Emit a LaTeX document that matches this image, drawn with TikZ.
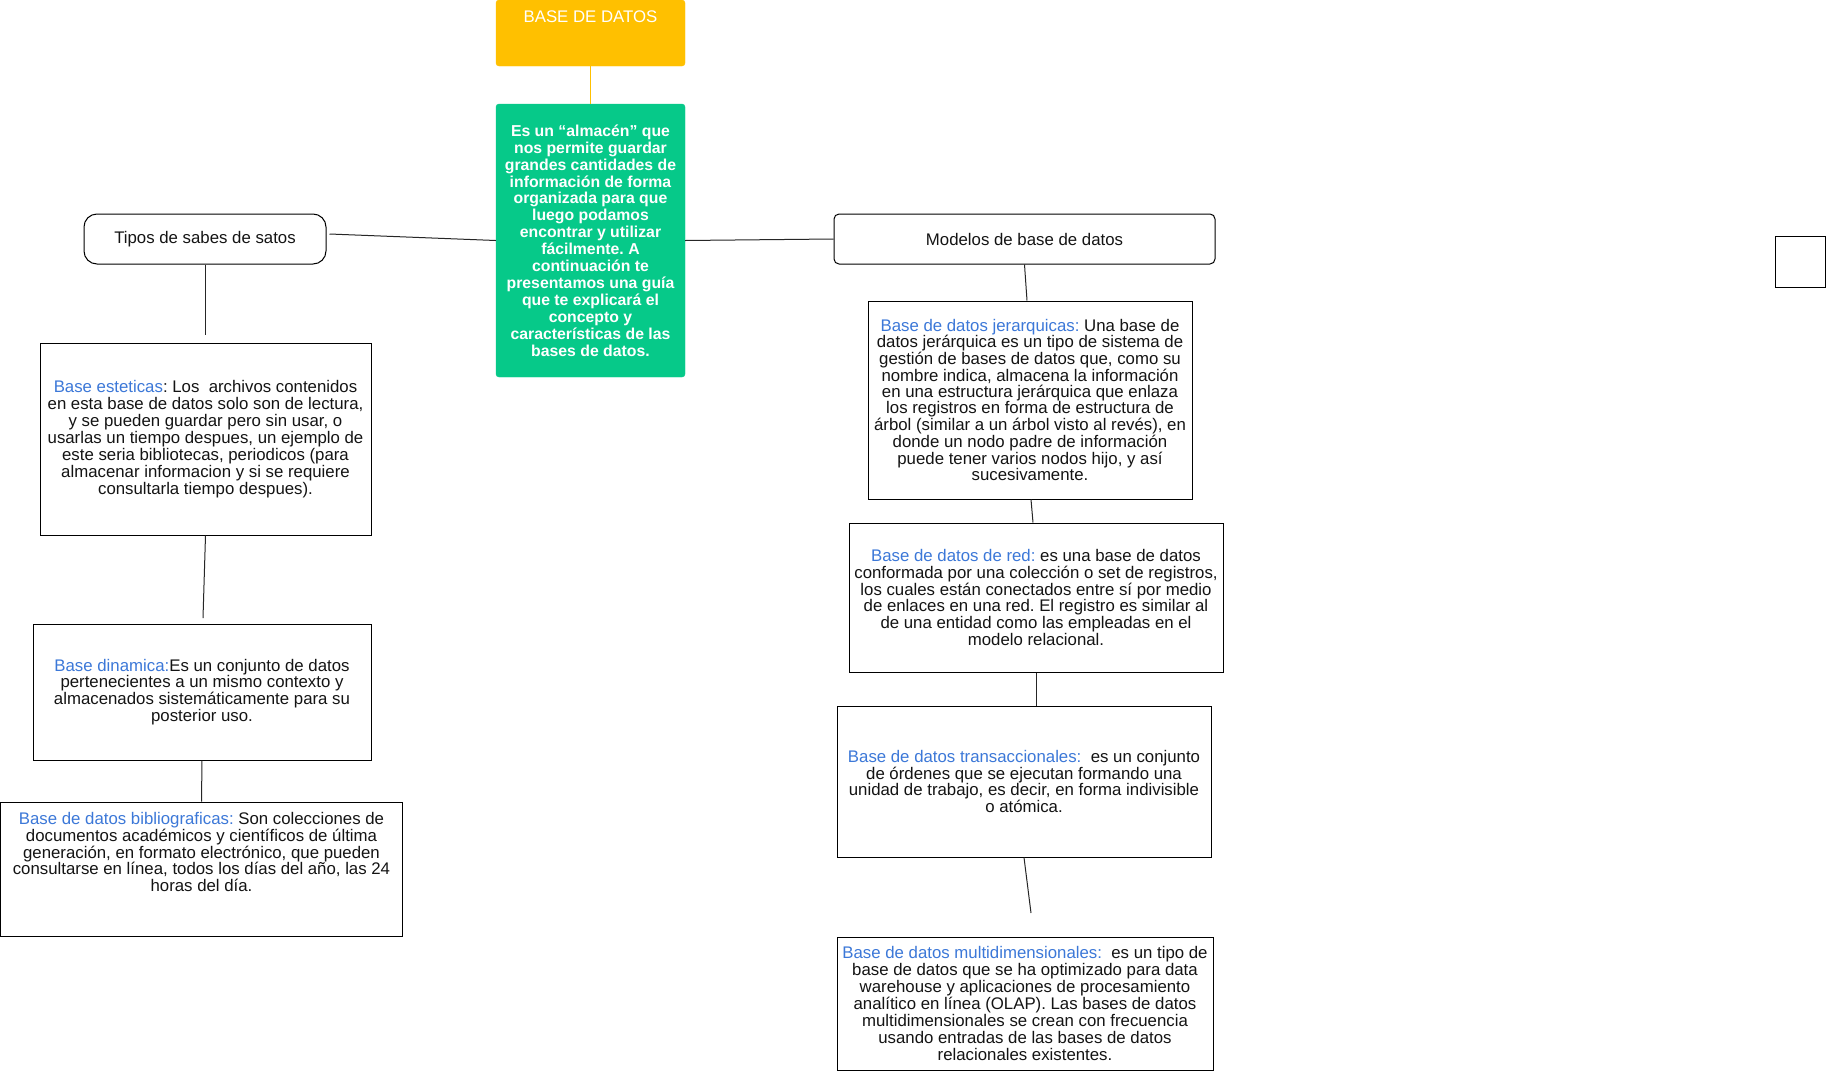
\documentclass[tikz,border=0pt]{standalone}
\usepackage{fontspec}
\setmainfont{Liberation Sans}
\frenchspacing
\definecolor{gold}{HTML}{FFC000}
\definecolor{mint}{RGB}{6,201,137}
\definecolor{azultxt}{HTML}{3C78D8}
\definecolor{ink}{HTML}{141414}
\newcommand{\azul}[1]{\textcolor{azultxt}{#1}}
\tikzset{
  plainbox/.style={draw=black, line width=1pt, inner sep=0pt, align=center, text=ink,
    font=\fontsize{16.8}{16.9}\selectfont},
  roundbox/.style={plainbox},
  conn/.style={draw=black!85, line width=1pt},
}
\begin{document}
\begin{tikzpicture}[x=1pt,y=-1pt]
\useasboundingbox[fill=white] (0,0) rectangle (1826,1071);

% top title
\node[fill=gold, draw=gold, rounded corners=3pt, minimum width=189pt, minimum height=66pt, inner sep=0pt] (base) at (590.5,33) {};
\node[anchor=base, text=white, font=\fontsize{16.8}{16.9}\selectfont, inner sep=0pt] (basetxt) at (590.5,22) {BASE DE DATOS};

% green definition
\node[fill=mint, draw=mint, rounded corners=3pt, minimum width=189pt, minimum height=273pt, inner sep=0pt, align=center, text=white,
  font=\fontsize{15.8}{16.9}\selectfont\bfseries] (def) at (590.5,240.5)
  {Es un “almacén” que\\nos permite guardar\\grandes cantidades de\\información de forma\\organizada para que\\luego podamos\\encontrar y utilizar\\fácilmente. A\\continuación te\\presentamos una guía\\que te explicará el\\concepto y\\características de las\\bases de datos.};

% headings
\node[roundbox, rounded corners=13pt, minimum width=242pt, minimum height=50pt] (tipos) at (205,239) {\raisebox{-1.5pt}{Tipos de sabes de satos}};
\node[roundbox, rounded corners=5pt, minimum width=381pt, minimum height=50pt] (modelos) at (1024.5,239) {Modelos de base de datos};

% left column
\node[plainbox, minimum width=331pt, minimum height=192pt] (estaticas) at (205.5,439)
  {\azul{Base esteticas}: Los\ \ archivos contenidos\\en esta base de datos solo son de lectura,\\y se pueden guardar pero sin usar, o\\usarlas un tiempo despues, un ejemplo de\\este seria bibliotecas, periodicos (para\\almacenar informacion y si se requiere\\consultarla tiempo despues).};
\node[plainbox, minimum width=338pt, minimum height=136pt] (dinamica) at (202,692)
  {\azul{Base dinamica:}Es un conjunto de datos\\pertenecientes a un mismo contexto y\\almacenados sistemáticamente para su\\posterior uso.};
\node[plainbox, minimum width=402pt, minimum height=134pt] (biblio) at (201.5,869) {};
\node[align=center, inner sep=0pt, text=ink, font=\fontsize{16.8}{16.9}\selectfont] (bibliotxt) at (201.5,852)
  {\azul{Base de datos bibliograficas:} Son colecciones de\\documentos académicos y científicos de última\\generación, en formato electrónico, que pueden\\consultarse en línea, todos los días del año, las 24\\horas del día.};

% right column
\node[plainbox, font=\fontsize{16.8}{15.3}\selectfont, minimum width=324pt, minimum height=198pt] (jer) at (1030,400)
  {\azul{Base de datos jerarquicas:} Una base de\\datos jerárquica es un tipo de sistema de\\gestión de bases de datos que, como su\\nombre indica, almacena la información\\en una estructura jerárquica que enlaza\\los registros en forma de estructura de\\árbol (similar a un árbol visto al revés), en\\donde un nodo padre de información\\puede tener varios nodos hijo, y así\\sucesivamente.};
\node[plainbox, minimum width=374pt, minimum height=149pt] (red) at (1036,597.5)
  {\azul{Base de datos de red:} es una base de datos\\conformada por una colección o set de registros,\\los cuales están conectados entre sí por medio\\de enlaces en una red. El registro es similar al\\de una entidad como las empleadas en el\\modelo relacional.};
\node[plainbox, minimum width=374pt, minimum height=151pt] (trans) at (1024,781.5)
  {\azul{Base de datos transaccionales:}\ \ es un conjunto\\de órdenes que se ejecutan formando una\\unidad de trabajo, es decir, en forma indivisible\\o atómica.};
\node[plainbox, minimum width=376pt, minimum height=133pt] (multi) at (1025,1003.5)
  {\azul{Base de datos multidimensionales:}\ \ es un tipo de\\base de datos que se ha optimizado para data\\warehouse y aplicaciones de procesamiento\\analítico en línea (OLAP). Las bases de datos\\multidimensionales se crean con frecuencia\\usando entradas de las bases de datos\\relacionales existentes.};

% stray square at right
\node[plainbox, minimum width=50pt, minimum height=51pt] (sq) at (1800,261.5) {};

% free ends
\coordinate (estEnd) at (205,335);
\coordinate (dinEnd) at (203,618);
\coordinate (multiEnd) at (1031,913);

% connectors
\draw[draw=gold, line width=1.5pt] (base.south) -- (def.north);
\draw[conn] ([shift={(3,-5)}]tipos.east) -- (def.west);
\draw[conn] (def.east) -- (modelos.west);
\draw[conn] (tipos.south) -- (estEnd);
\draw[conn] (estaticas.south) -- (dinEnd);
\draw[conn] (dinamica.south) -- (biblio.north);
\draw[conn] (modelos.south) -- ([xshift=-3pt]jer.north);
\draw[conn] ([xshift=1pt]jer.south) -- ([xshift=-3pt]red.north);
\draw[conn] (red.south) -- (red.south |- trans.north);
\draw[conn] (trans.south) -- (multiEnd);
\end{tikzpicture}
\end{document}
